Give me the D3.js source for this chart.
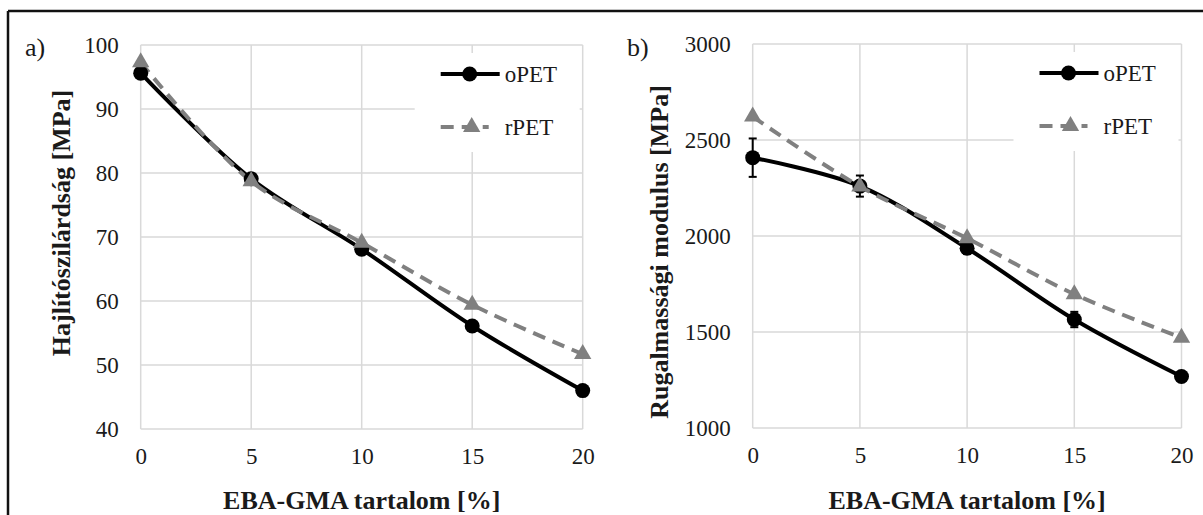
<!DOCTYPE html>
<html>
<head>
<meta charset="utf-8">
<script src="https://cdn.jsdelivr.net/npm/d3@7"></script>
<style>
  body { margin: 0; background: #fff; }
  text { font-family: "Liberation Serif", "Times New Roman", serif; fill: #1a1a1a; }
</style>
</head>
<body>
<svg id="canvas"></svg>
<script>
// data
const xValues = [0, 5, 10, 15, 20];
const seriesNames = ['oPET', 'rPET'];

const flexOPET = [95.6, 79.1, 68.1, 56.1, 46.0];
const flexRPET = [97.3, 78.7, 69.1, 59.4, 51.7];

const modOPET = [2408, 2260, 1936, 1565, 1268];
const modOPETErr = [100, 55, 30, 40, 15];
const modRPET = [2622, 2258, 1988, 1697, 1470];

const flexTicks = [40, 50, 60, 70, 80, 90, 100];
const modTicks = [1000, 1500, 2000, 2500, 3000];

const width = 1203;
const height = 515;

const svg = d3.select('#canvas').attr('width', width).attr('height', height);

// outer frame (top + left visible)
svg.append('line').attr('x1', 8).attr('x2', width).attr('y1', 11).attr('y2', 11)
	.attr('stroke', '#111').attr('stroke-width', 2.5);
svg.append('line').attr('x1', 8).attr('x2', 8).attr('y1', 11).attr('y2', height)
	.attr('stroke', '#111').attr('stroke-width', 2.5);

const drawPanel = (opt) => {
	const x = d3.scaleLinear().domain([0, 20]).range([opt.left, opt.right]);
	const y = d3.scaleLinear().domain(opt.domain).range([opt.bottom, opt.top]);
	const g = svg.append('g');

	// grid
	g.append('g')
		.selectAll('line')
		.data(opt.ticks)
		.enter()
		.append('line')
		.attr('x1', opt.left).attr('x2', opt.right)
		.attr('y1', (d) => y(d)).attr('y2', (d) => y(d))
		.attr('stroke', '#d9d9d9').attr('stroke-width', 1.5);
	g.append('g')
		.selectAll('line')
		.data(xValues)
		.enter()
		.append('line')
		.attr('x1', (d) => x(d)).attr('x2', (d) => x(d))
		.attr('y1', opt.top).attr('y2', opt.bottom)
		.attr('stroke', '#d9d9d9').attr('stroke-width', 1.5);

	// axes via d3 (domain and tick marks hidden, only labels)
	const yAxis = g.append('g')
		.attr('transform', `translate(${opt.left},0)`)
		.call(d3.axisLeft(y).tickValues(opt.ticks).tickFormat(d3.format('d')).tickSize(0).tickPadding(22));
	const xAxis = g.append('g')
		.attr('transform', `translate(0,${opt.bottom})`)
		.call(d3.axisBottom(x).tickValues(xValues).tickFormat(d3.format('d')).tickSize(0).tickPadding(19));
	[yAxis, xAxis].forEach((a) => {
		a.select('.domain').remove();
		a.selectAll('text')
			.attr('font-family', '"Liberation Serif", serif')
			.attr('font-size', 23)
			.attr('fill', '#1a1a1a');
	});

	// legend box (covers gridlines)
	g.append('rect')
		.attr('x', opt.right - 168).attr('y', opt.top + 8)
		.attr('width', 165).attr('height', 99)
		.attr('fill', '#fff');

	const line = d3.line()
		.x((d, i) => x(xValues[i]))
		.y((d) => y(d))
		.curve(d3.curveCatmullRom.alpha(0.5));

	// error bars
	if (opt.err) {
		const eb = g.append('g').selectAll('g').data(opt.a).enter().append('g');
		eb.append('line')
			.attr('x1', (d, i) => x(xValues[i])).attr('x2', (d, i) => x(xValues[i]))
			.attr('y1', (d, i) => y(d - opt.err[i])).attr('y2', (d, i) => y(d + opt.err[i]))
			.attr('stroke', '#000').attr('stroke-width', 2);
		[-1, 1].forEach((s) => {
			eb.append('line')
				.attr('x1', (d, i) => x(xValues[i]) - 4).attr('x2', (d, i) => x(xValues[i]) + 4)
				.attr('y1', (d, i) => y(d + s * opt.err[i])).attr('y2', (d, i) => y(d + s * opt.err[i]))
				.attr('stroke', '#000').attr('stroke-width', 2);
		});
	}

	// oPET
	g.append('path').datum(opt.a).attr('d', line)
		.attr('fill', 'none').attr('stroke', '#000').attr('stroke-width', 4);
	// rPET
	g.append('path').datum(opt.b).attr('d', line)
		.attr('fill', 'none').attr('stroke', '#808080').attr('stroke-width', 4)
		.attr('stroke-dasharray', '13,8');

	g.append('g').selectAll('circle').data(opt.a).enter().append('circle')
		.attr('cx', (d, i) => x(xValues[i])).attr('cy', (d) => y(d))
		.attr('r', 7.5).attr('fill', '#000');
	const tri = d3.symbol().type(d3.symbolTriangle).size(130);
	g.append('g').selectAll('path').data(opt.b).enter().append('path')
		.attr('d', tri)
		.attr('transform', (d, i) => `translate(${x(xValues[i])},${y(d)})`)
		.attr('fill', '#808080');

	// legend
	const lx = opt.right - 142;
	const ly1 = opt.top + 29;
	const ly2 = opt.top + 82;
	g.append('line').attr('x1', lx).attr('x2', lx + 59).attr('y1', ly1).attr('y2', ly1)
		.attr('stroke', '#000').attr('stroke-width', 4);
	g.append('circle').attr('cx', lx + 29).attr('cy', ly1).attr('r', 7.5).attr('fill', '#000');
	g.append('line').attr('x1', lx).attr('x2', lx + 48).attr('y1', ly2).attr('y2', ly2)
		.attr('stroke', '#808080').attr('stroke-width', 4).attr('stroke-dasharray', '13,8');
	g.append('path').attr('d', tri).attr('transform', `translate(${lx + 31},${ly2})`).attr('fill', '#808080');
	g.append('text').attr('x', lx + 64).attr('y', ly1).attr('dy', '0.35em')
		.attr('font-size', 23).text(seriesNames[0]);
	g.append('text').attr('x', lx + 64).attr('y', ly2).attr('dy', '0.35em')
		.attr('font-size', 23).text(seriesNames[1]);

	// titles
	g.append('text')
		.attr('x', (opt.left + opt.right) / 2).attr('y', 500).attr('dy', '0.35em')
		.attr('text-anchor', 'middle').attr('font-size', 26).attr('font-weight', 'bold')
		.text('EBA-GMA tartalom [%]');
	g.append('text')
		.attr('transform', `translate(${opt.ytx},${opt.yty}) rotate(-90)`)
		.attr('dy', '0.35em')
		.attr('text-anchor', 'middle').attr('font-size', 26).attr('font-weight', 'bold')
		.text(opt.ytitle);
	g.append('text')
		.attr('x', opt.lblx).attr('y', 47).attr('dy', '0.35em')
		.attr('font-size', 26).text(opt.label);
};

drawPanel({
	left: 140.7, right: 582.7, top: 45, bottom: 429,
	domain: [40, 100], ticks: flexTicks,
	a: flexOPET, b: flexRPET, err: null,
	ytitle: 'Hajlítószilárdság [MPa]', ytx: 61, yty: 223,
	label: 'a)', lblx: 25
});

drawPanel({
	left: 752.7, right: 1181.5, top: 44, bottom: 428,
	domain: [1000, 3000], ticks: modTicks,
	a: modOPET, b: modRPET, err: modOPETErr,
	ytitle: 'Rugalmassági modulus [MPa]', ytx: 659, yty: 252,
	label: 'b)', lblx: 627
});
</script>
</body>
</html>
